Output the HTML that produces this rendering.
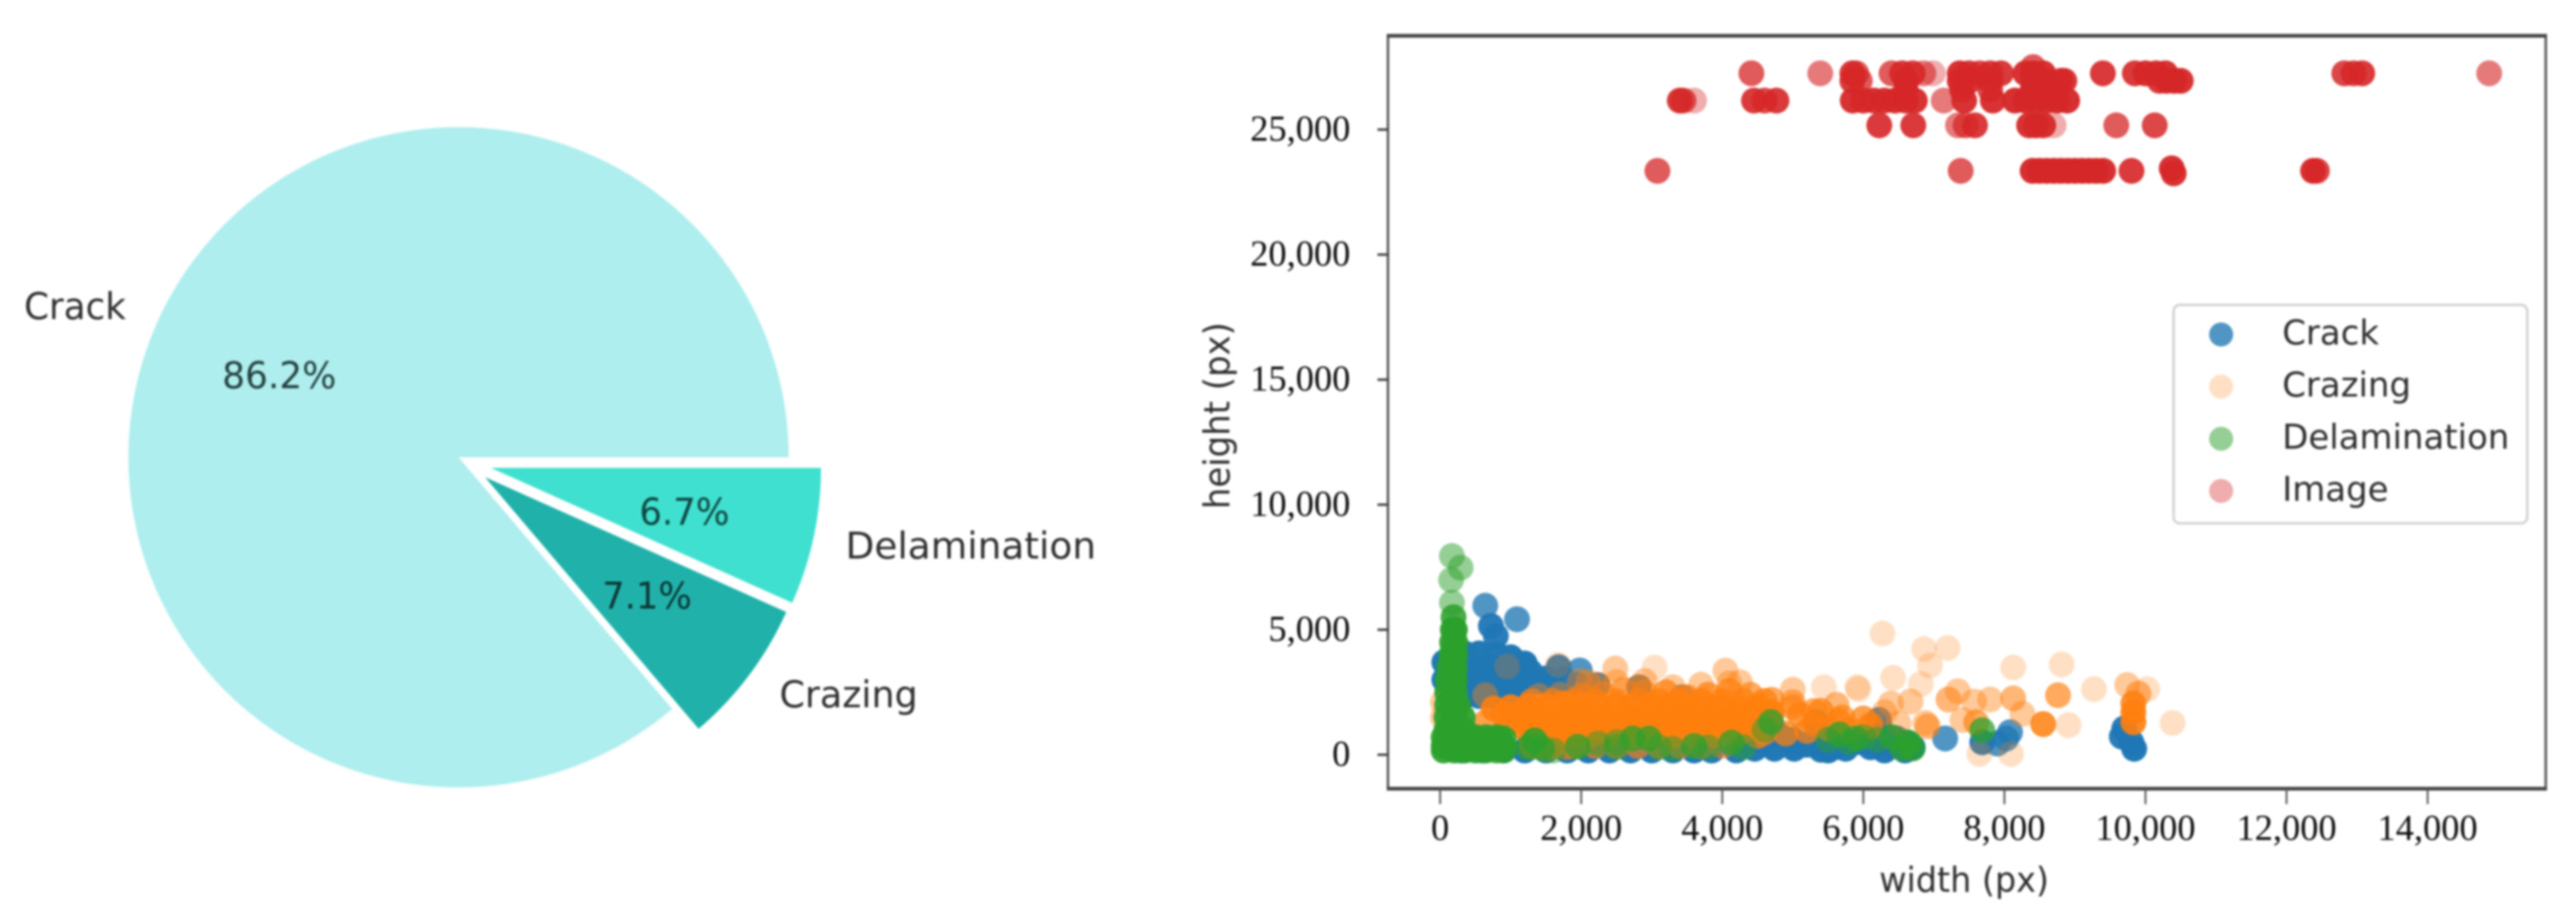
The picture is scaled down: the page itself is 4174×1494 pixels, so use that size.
<!DOCTYPE html>
<html lang="en">
<head>
<meta charset="utf-8">
<title>Defect class share and bounding-box size scatter</title>
<style>
html,body{margin:0;padding:0;background:#fff;width:4174px;height:1494px;overflow:hidden}
svg{display:block;filter:blur(1.8px)}
.dj{font-family:"DejaVu Sans","Liberation Sans",sans-serif;fill:#2e2e2e}
.tm{font-family:"Liberation Serif",serif;fill:#0c0c0c;font-size:59px}
</style>
</head>
<body>
<svg id="fig" xmlns="http://www.w3.org/2000/svg" width="4174" height="1494" viewBox="0 0 4174 1494">
  <rect x="0" y="0" width="4174" height="1494" fill="#fff"/>
  <g id="pie"></g>
  <g>
    <text class="dj" x="39" y="517" font-size="60" textLength="165" lengthAdjust="spacingAndGlyphs">Crack</text>
    <text class="dj" x="1263" y="1146" font-size="60" textLength="224" lengthAdjust="spacingAndGlyphs">Crazing</text>
    <text class="dj" x="1370" y="905" font-size="60" textLength="406" lengthAdjust="spacingAndGlyphs">Delamination</text>
    <text class="dj" x="360" y="629" font-size="60" textLength="185" lengthAdjust="spacingAndGlyphs" style="fill:#24403f">86.2%</text>
    <text class="dj" x="976" y="986" font-size="60" textLength="145" lengthAdjust="spacingAndGlyphs" style="fill:#0c3533">7.1%</text>
    <text class="dj" x="1036" y="850" font-size="60" textLength="146" lengthAdjust="spacingAndGlyphs" style="fill:#0f4540">6.7%</text>
  </g>
  <g id="marks"></g>
  <g id="axes">
    <rect x="2247" y="56" width="4" height="1224" fill="#555"/>
    <rect x="4123" y="56" width="4" height="1224" fill="#555"/>
    <rect x="2247" y="55" width="1880" height="6" fill="#444"/>
    <rect x="2247" y="1275" width="1880" height="6" fill="#444"/>
  </g>
  <text class="dj" x="3045" y="1445" font-size="56" textLength="275" lengthAdjust="spacingAndGlyphs">width (px)</text>
  <text class="dj" transform="translate(1992,825) rotate(-90)" font-size="58" textLength="303" lengthAdjust="spacingAndGlyphs">height (px)</text>
  <g id="legend">
    <rect x="3522" y="494" width="573" height="354" rx="10" ry="10" fill="#fff" fill-opacity="0.9" stroke="#d2d2d2" stroke-width="4"/>
  </g>
</svg>
<script>
/* ---------- pie data ---------- */
var pieLabels = ['Crack', 'Crazing', 'Delamination'];
var pieShares = [86.2, 7.1, 6.7];
var pieExplode = [0, 0.1, 0.1];
var pieColors = ['#afeeee', '#20b2aa', '#40e0d0'];

/* ---------- scatter axis labels ---------- */
var xTickValues = [0, 2000, 4000, 6000, 8000, 10000, 12000, 14000];
var yTickValues = [0, 5000, 10000, 15000, 20000, 25000];

/* ---------- scatter series (width px, height px, stacked annotations at that spot) ---------- */
var seriesNames = ['Crack', 'Crazing', 'Delamination', 'Image'];

var crackW = [640,1090,720,790,
  350,550,800,1000,1200,
  350,550,750,950,1150,1273,1500,1750,1980,1680,
  350,550,750,950,1150,1350,1600,1950,
  350,550,750,950,1150,
  60,60,3430,2818,2232,640,5330,6220,4690,
  300,600,900,1200,1500,1800,2100,2400,2700,3000,3300,3600,3850,4200,
  4460,4740,5020,4460,4400,5500,5750,6030,6300,6590,6470,5520,6250,
  4600,4800,5000,5200,5600,5900,6100,6400,6600,6700,5400,
  7160,8026,7900,8080,7686,9664,9700,9840,9800];
var crackH = [5960,5420,5150,4750,
  4050,4050,4000,3900,3650,
  3500,3500,3500,3500,3500,3330,3050,3000,3370,3500,
  2900,2900,2900,2900,2900,2900,2750,2800,
  2350,2350,2350,2350,2350,
  3000,3700,2300,2700,2790,2380,1310,1390,1300,
  170,170,170,170,170,170,170,170,170,170,170,170,170,170,
  570,240,240,240,980,170,240,480,170,170,650,570,980,
  570,800,600,400,300,500,300,400,500,300,200,
  650,650,450,900,500,730,1050,240,500];
var crackN = [1,1,2,2,
  3,3,3,3,3,
  3,3,3,3,3,3,3,2,1,2,
  3,3,3,3,3,3,3,2,
  3,3,3,3,3,
  3,3,1,2,2,2,2,2,2,
  3,3,3,3,3,3,3,3,3,3,3,3,3,3,
  3,3,3,3,3,3,3,3,3,3,3,3,3,
  3,3,3,3,3,3,3,3,3,3,3,
  1,1,1,1,2,2,2,3,2];

var crazingW = [6271,6860,7194,6945,6422,6815,5930,8125,8812,9270,9742,10024,10384,8910,7646,8092,6389,6670,7339,7797,7568,6880,7404,8255,
  7207,8125,8760,8550,7600,6913,9828,9828,9828,9900,
  2483,3041,4045,4250,5440,5915,5620,5000,2232,2818,950,1670,1980,3430,640,
  760,1000,1250,1500,1750,2000,2250,2500,2750,3000,3250,3500,3750,4000,4250,4500,
  650,1000,1250,1500,1750,2000,2250,2500,2750,3000,3250,3500,3750,4000,4250,
  1300,1550,1800,2100,2400,2700,3000,3300,3600,3900,4200,4500,
  1400,1700,2000,2300,2600,2900,3200,3500,3800,4100,4400,4700,5000,
  2100,2500,2900,3300,3700,4100,4400,4700,5100,5400,5700,
  4600,4900,5200,5500,5800,6100,5300,5650,6000,1500,1800,6500,
  900,1150,1400,1650,1900,2150,2400,2650,2900,3150,3400,3650,3900,4150,4400,4700,
  1200,1450,1700,1950,2200,2450,2700,2950,3200,3450,3700,3950,4200,4450,
  1300,1600,1900,2200,2500,2800,3100,3400,3700,4000,
  1300,1600,1900,2200,2500,2800,3100,3400,3700,4000,4300,4600,
  40,40,5000,5300,6300,6100];
var crazingH = [4850,4230,4270,3570,3080,2830,2625,3490,3610,2625,2790,2625,1270,1185,33,33,2050,2130,2540,2210,2130,1270,1390,1640,
  2210,2255,2380,1226,1300,1140,2050,1300,1700,2450,
  3450,3490,3366,2900,2700,2700,2000,2600,2790,2700,3530,3600,2950,2300,2380,
  1850,1900,1950,1950,2050,2000,1950,2000,1950,2000,1950,1950,1900,1900,1850,1950,
  1300,1300,1350,1350,1300,1350,1300,1350,1300,1350,1300,1350,1300,1350,1300,
  800,750,800,750,800,750,800,750,800,800,800,750,
  2350,2400,2350,2450,2600,2500,2500,2300,2400,2550,2400,2200,2100,
  2900,2900,2950,2700,2800,2850,1600,1700,1600,1750,1500,
  900,850,950,1050,1000,1200,1250,1350,1450,250,300,1250,
  1600,1620,1600,1640,1600,1620,1600,1640,1600,1620,1600,1640,1600,1620,1600,1640,
  1050,1070,1050,1070,1050,1070,1050,1070,1050,1070,1050,1070,1050,1070,
  350,350,350,350,350,350,350,350,350,350,
  2150,2150,2150,2150,2150,2150,2150,2150,2150,2150,2150,2150,
  1500,2100,1900,1750,1700,1100];
var crazingN = [1,1,1,1,1,1,1,1,1,1,2,1,1,1,1,1,2,2,2,2,2,2,2,2,
  3,3,4,7,4,3,7,9,8,3,
  2,1,2,2,1,1,3,2,2,2,1,1,2,1,2,
  8,9,9,9,9,9,9,9,9,8,8,8,8,7,7,6,
  5,9,9,9,9,9,9,9,9,9,9,9,8,8,7,
  6,7,7,7,7,7,7,6,6,6,5,5,
  2,2,3,3,3,3,5,5,5,5,4,4,3,
  2,2,2,2,2,2,5,5,5,5,4,
  5,5,5,5,5,4,5,5,5,3,3,2,
  9,9,9,9,9,9,9,9,9,9,9,9,8,8,8,6,
  8,8,8,8,8,8,8,8,8,8,8,8,7,7,
  4,5,5,4,4,4,4,4,3,3,
  4,4,4,4,4,4,6,6,6,6,5,5,
  2,2,4,4,2,3];

var delamW = [167,290,156,167,
  190,180,210,170,215,160,215,130,210,110,210,100,210,100,200,250,90,200,320,90,200,340,
  50,200,350,500,650,800,900,50,200,350,500,650,800,900,50,200,350,500,650,800,900,
  840,1340,1250,1450,1950,2240,2730,2960,2500,3100,3290,3600,3800,4130,4300,4690,4600,
  5660,5890,5800,5500,6000,6200,6400,6640,6552,6700,7686,1600,2500];
var delamH = [7950,7480,6990,6080,
  5500,5000,5000,4500,4500,4000,4000,3500,3500,3000,3000,2500,2500,2000,2000,2000,1500,1500,1500,1000,1000,1000,
  700,700,700,700,700,700,650,350,350,350,350,350,350,350,170,170,170,170,170,170,170,
  650,570,300,250,320,450,650,650,500,300,240,350,300,485,300,1310,1000,
  815,650,500,600,700,600,700,485,250,250,980,170,300];
var delamN = [1,1,1,1,
  3,4,4,4,4,4,4,4,4,4,4,4,4,4,4,4,4,4,4,4,4,4,
  4,4,4,4,4,3,3,4,4,4,4,4,3,3,4,4,4,4,4,3,3,
  3,3,2,2,2,1,2,2,1,1,1,2,1,2,1,2,1,
  2,2,1,1,1,1,2,3,2,2,2,1,1];

var imageW = [4413,5389,5845,5900,6400,6550,6700,6850,6987,7367,7500,7650,7800,7950,8300,8407,8550,9396,9850,10000,10150,10283,12819,12950,13073,14873,
  8407,5845,5950,6606,7367,7500,7800,8407,8600,8800,8850,10200,10300,10410,10500,
  3398,3450,3600,4450,4600,4768,5850,6000,6150,6300,6450,6600,6730,7139,7430,7836,8150,8300,8450,8600,8750,8890,
  6600,7400,7800,8400,8700,
  6226,6708,7342,7450,7583,8350,8445,8550,8698,9586,10131,
  3081,7380,8400,8500,8600,8700,8800,8900,9000,9100,9200,9300,9400,9802,10372,10400,12376,12430];
var imageH = [27250,27250,27250,27250,27250,27250,27250,27250,27250,27250,27250,27250,27250,27250,27250,27250,27250,27250,27250,27250,27250,27250,27250,27250,27250,27250,
  27500,26950,26950,26950,26950,26950,26950,26950,26950,26950,26950,26950,26950,26950,26950,
  26160,26160,26160,26160,26160,26160,26160,26160,26160,26160,26160,26160,26160,26160,26160,26160,26160,26160,26160,26160,26160,26160,
  26600,26600,26600,26600,26600,
  25170,25170,25170,25170,25170,25170,25170,25170,25170,25170,25170,
  23350,23350,23350,23350,23350,23350,23350,23350,23350,23350,23350,23350,23350,23350,23450,23250,23350,23350];
var imageN = [3,2,5,3,3,5,5,2,1,6,5,4,5,5,6,8,6,5,5,6,6,6,4,4,5,2,
  3,5,3,6,6,5,5,7,6,5,5,5,6,7,6,
  5,3,1,5,4,5,6,6,6,6,6,6,6,2,6,6,7,7,7,7,7,7,
  4,5,4,6,5,
  5,5,2,3,5,6,6,6,1,3,4,
  3,3,7,7,7,7,7,7,7,7,7,7,7,5,6,6,6,4];

/* ---------- styling (not data) ---------- */
var SVGNS = 'http://www.w3.org/2000/svg';
var seriesColor = ['#1f77b4', '#ff7f0e', '#2ca02c', '#d62728'];
var seriesAlpha = [0.78, 0.24, 0.5, 0.38];
var pieNudgeY = [0, 0, 6];
var MARK_R = 21;

/* ---------- axis functions ---------- */
function xScale(v) { return 2333.5 + v * 0.11429; }
function yScale(v) { return 1223 - v * 0.04052; }

function stackedAlpha(a, n) { return 1 - Math.pow(1 - a, n); }

/* ---------- pie ---------- */
(function () {
  var pieGroup = document.getElementById('pie');
  var cx = 743, cy = 741, r = 535;
  var total = pieShares.reduce(function (s, v) { return s + v; }, 0);
  var a0 = 0;
  pieShares.forEach(function (share, i) {
    var sweep = share / total * 2 * Math.PI;
    var a1 = a0 + sweep;
    var mid = (a0 + a1) / 2;
    var ox = cx + pieExplode[i] * r * Math.cos(mid);
    var oy = cy - pieExplode[i] * r * Math.sin(mid) + pieNudgeY[i];
    var d = 'M' + ox + ' ' + oy +
      'L' + (ox + r * Math.cos(a0)) + ' ' + (oy - r * Math.sin(a0)) +
      'A' + r + ' ' + r + ' 0 ' + (sweep > Math.PI ? 1 : 0) + ' 0 ' +
      (ox + r * Math.cos(a1)) + ' ' + (oy - r * Math.sin(a1)) + 'Z';
    var path = document.createElementNS(SVGNS, 'path');
    path.setAttribute('d', d);
    path.setAttribute('fill', pieColors[i]);
    
    
    pieGroup.appendChild(path);
    a0 = a1;
  });
})();

/* ---------- scatter marks ---------- */
(function () {
  var marks = document.getElementById('marks');
  var allW = [crackW, crazingW, delamW, imageW];
  var allH = [crackH, crazingH, delamH, imageH];
  var allN = [crackN, crazingN, delamN, imageN];
  seriesNames.forEach(function (name, s) {
    var g = document.createElementNS(SVGNS, 'g');
    
    
    marks.appendChild(g);
    allW[s].forEach(function (w, i) {
      var c = document.createElementNS(SVGNS, 'circle');
      c.setAttribute('cx', xScale(w));
      c.setAttribute('cy', yScale(allH[s][i]));
      c.setAttribute('r', MARK_R);
      c.setAttribute('fill', seriesColor[s]);
      c.setAttribute('fill-opacity', stackedAlpha(seriesAlpha[s], allN[s][i] || 1));
      
      
      g.appendChild(c);
    });
  });
})();

/* ---------- ticks ---------- */
(function () {
  var axes = document.getElementById('axes');
  function fmt(v) { return v.toLocaleString('en-US'); }
  xTickValues.forEach(function (v) {
    var t = document.createElementNS(SVGNS, 'rect');
    t.setAttribute('x', xScale(v) - 1.5);
    t.setAttribute('y', 1278);
    t.setAttribute('width', 3);
    t.setAttribute('height', 25);
    t.setAttribute('fill', '#555');
    
    
    axes.appendChild(t);
    var l = document.createElementNS(SVGNS, 'text');
    l.setAttribute('class', 'tm');
    l.setAttribute('x', xScale(v));
    l.setAttribute('y', 1361);
    l.setAttribute('text-anchor', 'middle');
    l.textContent = fmt(v);
    
    
    axes.appendChild(l);
  });
  yTickValues.forEach(function (v) {
    var t = document.createElementNS(SVGNS, 'rect');
    t.setAttribute('x', 2232);
    t.setAttribute('y', yScale(v) - 2);
    t.setAttribute('width', 18);
    t.setAttribute('height', 4);
    t.setAttribute('fill', '#444');
    
    
    axes.appendChild(t);
    var l = document.createElementNS(SVGNS, 'text');
    l.setAttribute('class', 'tm');
    l.setAttribute('x', 2188);
    l.setAttribute('y', yScale(v) + 18);
    l.setAttribute('text-anchor', 'end');
    l.textContent = fmt(v);
    
    
    axes.appendChild(l);
  });
})();

/* ---------- legend ---------- */
(function () {
  var legend = document.getElementById('legend');
  seriesNames.forEach(function (name, s) {
    var rowY = 542 + s * 84.5;
    var c = document.createElementNS(SVGNS, 'circle');
    c.setAttribute('cx', 3599);
    c.setAttribute('cy', rowY);
    c.setAttribute('r', 19.5);
    c.setAttribute('fill', seriesColor[s]);
    c.setAttribute('fill-opacity', seriesAlpha[s]);
    
    
    legend.appendChild(c);
    var t = document.createElementNS(SVGNS, 'text');
    t.setAttribute('class', 'dj');
    t.setAttribute('x', 3698);
    t.setAttribute('y', rowY + 16);
    t.setAttribute('font-size', 55);
    t.textContent = name;
    
    
    legend.appendChild(t);
  });
})();
</script>
</body>
</html>
